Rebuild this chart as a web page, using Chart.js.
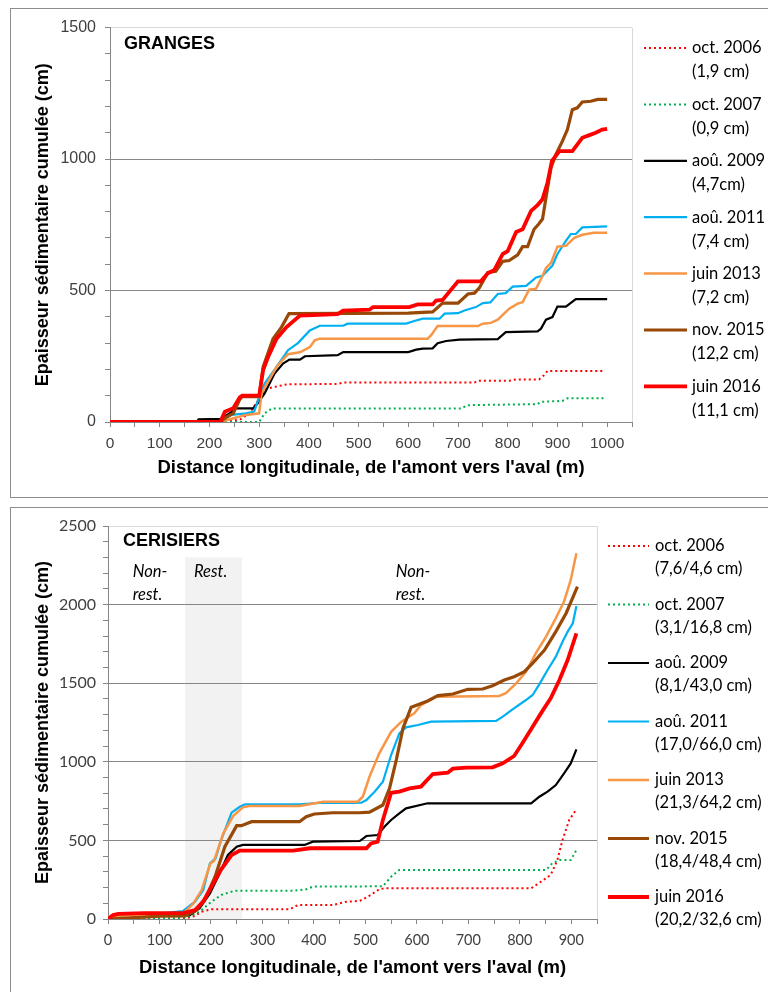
<!DOCTYPE html>
<html>
<head>
<meta charset="utf-8">
<script src="https://cdn.jsdelivr.net/npm/chart.js@4/dist/chart.umd.min.js"></script>
<style>
  body { margin: 0; background: #fff; width: 768px; height: 992px; overflow: hidden; position: relative; }
  .panel { position: absolute; left: 10px; width: 790px; border: 1px solid #8c8c8c; }
  #p1 { top: 8px; height: 488px; }
  #p2 { top: 507px; height: 520px; }
  canvas { position: absolute; left: 0; top: 0; }
</style>
</head>
<body>
<div class="panel" id="p1"><canvas id="granges" width="757" height="488"></canvas></div>
<div class="panel" id="p2"><canvas id="cerisiers" width="757" height="484"></canvas></div>
<script>
// legend names (same for both sites)
const campaigns = ['oct. 2006', 'oct. 2007', 'aoû. 2009', 'aoû. 2011', 'juin 2013', 'nov. 2015', 'juin 2016'];
const grangesNotes = ['(1,9 cm)', '(0,9 cm)', '(4,7cm)', '(7,4 cm)', '(7,2 cm)', '(12,2 cm)', '(11,1 cm)'];
const cerisiersNotes = ['(7,6/4,6 cm)', '(3,1/16,8 cm)', '(8,1/43,0 cm)', '(17,0/66,0 cm)', '(21,3/64,2 cm)', '(18,4/48,4 cm)', '(20,2/32,6 cm)'];

// GRANGES : distance (m) / cumulated thickness (cm)
const gr2006Dist = [0, 230, 262, 281, 298, 315, 355, 458, 469, 733, 740, 803, 817, 863, 873, 880, 995];
const gr2006Cum  = [0, 0, 10, 33, 83, 127, 143, 145, 150, 150, 157, 157, 162, 162, 178, 194, 194];
const gr2007Dist = [0, 230, 300, 311, 325, 706, 719, 860, 867, 910, 920, 995];
const gr2007Cum  = [0, 0, 0, 33, 51, 51, 64, 68, 77, 80, 90, 90];
const gr2009Dist = [0, 175, 178, 222, 241, 254, 288, 298, 311, 331, 348, 361, 382, 392, 458, 469, 600, 616, 629, 649, 659, 676, 703, 780, 796, 860, 867, 877, 890, 900, 917, 937, 1000];
const gr2009Cum  = [0, 0, 10, 12, 33, 52, 52, 73, 109, 184, 222, 237, 237, 250, 254, 266, 266, 275, 279, 280, 300, 308, 313, 315, 342, 345, 355, 389, 399, 439, 439, 467, 467];
const gr2011Dist = [0, 95, 100, 225, 244, 274, 290, 301, 311, 335, 358, 378, 402, 422, 469, 478, 596, 612, 629, 663, 673, 700, 713, 736, 750, 765, 780, 796, 810, 837, 857, 870, 890, 900, 917, 927, 937, 950, 1000];
const gr2011Cum  = [0, 0, 3, 3, 27, 33, 40, 100, 146, 210, 273, 300, 348, 366, 366, 374, 374, 384, 393, 393, 412, 414, 424, 437, 452, 455, 487, 490, 515, 518, 550, 556, 595, 639, 689, 715, 715, 740, 744];
const gr2013Dist = [0, 222, 248, 274, 300, 305, 335, 358, 382, 402, 412, 422, 639, 646, 659, 740, 750, 766, 780, 803, 820, 830, 843, 857, 867, 877, 887, 900, 917, 934, 950, 973, 1000];
const gr2013Cum  = [0, 0, 14, 27, 33, 109, 210, 258, 265, 285, 311, 317, 317, 330, 365, 365, 374, 377, 389, 431, 450, 456, 503, 507, 544, 586, 605, 667, 670, 700, 712, 720, 720];
const gr2015Dist = [0, 222, 235, 248, 261, 266, 300, 308, 328, 345, 360, 600, 649, 669, 700, 720, 733, 743, 760, 776, 790, 803, 820, 830, 840, 853, 862, 870, 877, 887, 897, 910, 920, 930, 940, 950, 967, 981, 1000];
const gr2015Cum  = [0, 0, 20, 33, 86, 96, 96, 210, 317, 361, 412, 414, 419, 452, 452, 487, 490, 510, 569, 573, 611, 614, 636, 667, 667, 733, 752, 772, 853, 967, 1018, 1068, 1112, 1188, 1195, 1217, 1220, 1227, 1227];
const gr2016Dist = [0, 222, 231, 248, 261, 266, 300, 308, 318, 335, 355, 382, 458, 469, 522, 529, 602, 619, 649, 656, 669, 700, 746, 760, 773, 790, 800, 817, 830, 847, 860, 870, 880, 889, 904, 930, 950, 963, 977, 990, 1000];
const gr2016Cum  = [0, 0, 39, 52, 94, 100, 100, 197, 247, 317, 361, 405, 410, 424, 427, 437, 437, 447, 447, 462, 464, 535, 535, 566, 578, 639, 650, 723, 733, 803, 825, 847, 910, 993, 1030, 1030, 1081, 1090, 1100, 1112, 1115];

// CERISIERS
const ce2006Dist = [0, 150, 165, 182, 201, 353, 369, 437, 463, 489, 505, 527, 537, 822, 841, 860, 873, 883, 896, 909];
const ce2006Cum  = [0, 5, 15, 46, 62, 62, 89, 89, 110, 115, 142, 189, 195, 195, 237, 280, 375, 503, 630, 693];
const ce2007Dist = [0, 140, 155, 178, 201, 220, 246, 360, 385, 398, 534, 550, 566, 851, 863, 877, 899, 910];
const ce2007Cum  = [0, 5, 15, 46, 110, 153, 180, 180, 189, 206, 208, 269, 312, 312, 354, 375, 375, 439];
const ce2009Dist = [0, 20, 60, 100, 150, 159, 178, 198, 217, 233, 250, 262, 382, 398, 489, 502, 524, 537, 550, 566, 579, 621, 822, 838, 854, 870, 886, 899, 910];
const ce2009Cum  = [0, 10, 20, 25, 25, 25, 68, 163, 291, 407, 460, 471, 471, 492, 496, 528, 534, 587, 630, 672, 704, 736, 736, 778, 810, 852, 927, 990, 1079];
const ce2011Dist = [0, 15, 30, 100, 146, 169, 185, 198, 209, 220, 240, 256, 266, 372, 418, 476, 492, 502, 518, 534, 550, 566, 579, 602, 628, 754, 767, 786, 812, 825, 841, 854, 870, 883, 893, 903, 910];
const ce2011Cum  = [0, 20, 28, 35, 51, 110, 184, 354, 386, 503, 676, 714, 729, 729, 740, 738, 740, 757, 810, 873, 1043, 1181, 1219, 1234, 1255, 1260, 1287, 1334, 1393, 1425, 1510, 1584, 1669, 1764, 1828, 1881, 1991];
const ce2013Dist = [0, 15, 60, 100, 146, 165, 182, 199, 206, 224, 243, 262, 275, 372, 418, 485, 495, 508, 527, 550, 570, 595, 608, 637, 760, 773, 793, 812, 831, 851, 870, 886, 899, 910];
const ce2013Cum  = [0, 15, 25, 30, 36, 95, 184, 354, 370, 545, 655, 710, 719, 719, 746, 746, 778, 905, 1054, 1191, 1255, 1308, 1361, 1414, 1419, 1436, 1499, 1573, 1690, 1796, 1913, 2019, 2157, 2326];
const ce2015Dist = [0, 50, 100, 150, 172, 191, 208, 227, 250, 259, 279, 372, 385, 401, 437, 489, 508, 534, 547, 560, 573, 589, 621, 641, 670, 699, 728, 747, 770, 789, 809, 825, 848, 870, 890, 912];
const ce2015Cum  = [0, 8, 18, 19, 57, 142, 269, 460, 594, 594, 619, 619, 651, 668, 676, 676, 680, 725, 831, 1011, 1213, 1347, 1387, 1421, 1431, 1461, 1463, 1484, 1520, 1541, 1573, 1627, 1711, 1828, 1945, 2114];
const ce2016Dist = [0, 10, 20, 70, 146, 169, 185, 201, 220, 240, 256, 360, 392, 502, 511, 524, 534, 550, 566, 586, 608, 631, 660, 670, 696, 747, 767, 789, 805, 825, 841, 860, 877, 893, 910];
const ce2016Cum  = [0, 25, 33, 38, 38, 57, 110, 206, 316, 407, 435, 435, 450, 450, 481, 492, 630, 803, 810, 831, 842, 922, 931, 956, 963, 965, 990, 1037, 1118, 1223, 1308, 1404, 1520, 1647, 1817];

// restored reach on the Cerisiers site
const restFrom = 150, restTo = 260, restTop = 2300;

const seriesColors = ['#ff0000', '#00b050', '#000000', '#00b0f0', '#f79646', '#984807', '#ff0000'];
const seriesWidths = [2, 2, 2.2, 2.2, 2.5, 3.2, 3.8];
const seriesDotted = [true, true, false, false, false, false, false];

Chart.defaults.font.family = '"Liberation Sans", Arial, sans-serif';
Chart.defaults.color = '#404040';

function buildDatasets(dists, cums) {
    return campaigns.map((name, i) => ({
        label: name,
        data: dists[i].map((d, k) => ({ x: d, y: cums[i][k] })),
        borderColor: seriesColors[i],
        backgroundColor: seriesColors[i],
        borderWidth: seriesWidths[i],
        borderDash: seriesDotted[i] ? [2, 3] : [],
        pointRadius: 0,
        tension: 0,
        fill: false,
        order: campaigns.length - i   // last campaign on top
    }));
}

function gridColor(major, max) {
    return (c) => {
        const v = c.tick.value;
        if (v === max) return '#d9d9d9';
        if (major && v !== 0 && v % major === 0) return '#868686';
        return 'rgba(0,0,0,0)';
    };
}

// legend drawn at the right, two lines per entry
const sideLegend = {
    id: 'sideLegend',
    afterDraw(chart, args, o) {
        const ctx = chart.ctx;
        ctx.save();
        ctx.font = o.font;
        ctx.textBaseline = 'middle';
        ctx.textAlign = 'left';
        chart.data.datasets.forEach((ds, i) => {
            const y = o.top + i * o.step;
            ctx.beginPath();
            ctx.strokeStyle = ds.borderColor;
            ctx.lineWidth = ds.borderWidth;
            ctx.setLineDash(ds.borderDash);
            ctx.moveTo(o.x0, y);
            ctx.lineTo(o.x1, y);
            ctx.stroke();
            ctx.fillStyle = '#000';
            ctx.fillText(ds.label, o.textX, y);
            ctx.fillText(o.notes[i], o.textX, y + o.gap);
        });
        ctx.restore();
    }
};

// texts placed in data units
const notesPlugin = {
    id: 'notes',
    afterDraw(chart, args, o) {
        const ctx = chart.ctx;
        const xs = chart.scales.x, ys = chart.scales.y;
        ctx.save();
        ctx.textBaseline = 'middle';
        ctx.textAlign = 'left';
        ctx.fillStyle = '#000';
        o.items.forEach(it => {
            ctx.font = it.font;
            ctx.fillText(it.text, xs.getPixelForValue(it.x), ys.getPixelForValue(it.y));
        });
        ctx.restore();
    }
};

const shadePlugin = {
    id: 'shade',
    beforeDraw(chart, args, o) {
        if (!o.on) return;
        const xs = chart.scales.x, ys = chart.scales.y;
        const ctx = chart.ctx;
        ctx.save();
        ctx.fillStyle = '#f2f2f2';
        const l = xs.getPixelForValue(o.from), r = xs.getPixelForValue(o.to);
        const t = ys.getPixelForValue(o.top), b = ys.getPixelForValue(0);
        ctx.fillRect(l, t, r - l, b - t);
        ctx.restore();
    }
};

function makeChart(id, p) {
    return new Chart(document.getElementById(id), {
        type: 'line',
        data: { datasets: buildDatasets(p.dists, p.cums) },
        plugins: [shadePlugin, notesPlugin, sideLegend],
        options: {
            responsive: false,
            animation: false,
            events: [],
            layout: { padding: { left: 0, right: p.padRight, top: 18, bottom: 0 } },
            scales: {
                x: {
                    type: 'linear',
                    min: 0,
                    max: p.xMax,
                    afterFit: (s) => { s.height = p.xAxisH; },
                    border: { color: '#868686', width: 1 },
                    grid: { color: gridColor(null, p.xMax), tickColor: '#868686', tickLength: 5, drawTicks: true },
                    ticks: {
                        stepSize: 50,
                        autoSkip: false,
                        maxRotation: 0,
                        minRotation: 0,
                        padding: p.xTickPad,
                        font: p.xTickFont,
                        color: '#404040',
                        callback: (v) => (v % 100 === 0 ? v : '')
                    },
                    title: {
                        display: true,
                        text: "Distance longitudinale, de l'amont vers l'aval (m)",
                        color: '#000',
                        font: { family: '"Liberation Sans", Arial, sans-serif', size: 18.5, weight: 'bold' },
                        padding: { top: 0, bottom: p.xTitlePad }
                    }
                },
                y: {
                    min: 0,
                    max: p.yMax,
                    afterFit: (s) => { s.width = p.yAxisW; },
                    border: { color: '#868686', width: 1 },
                    grid: { color: gridColor(500, p.yMax), tickColor: '#868686', tickLength: 5, drawTicks: true },
                    ticks: {
                        stepSize: 100,
                        autoSkip: false,
                        padding: p.yTickPad,
                        font: p.yTickFont,
                        color: '#404040',
                        callback: (v) => (v % 500 === 0 ? v : '')
                    },
                    title: {
                        display: true,
                        text: 'Epaisseur sédimentaire cumulée (cm)',
                        color: '#000',
                        font: { family: '"Liberation Sans", Arial, sans-serif', size: 18, weight: 'bold' },
                        padding: { top: 21.5, bottom: 0 }
                    }
                }
            },
            plugins: {
                legend: { display: false },
                tooltip: { enabled: false },
                shade: p.shade,
                notes: { items: p.notes },
                sideLegend: p.legend
            }
        }
    });
}

document.addEventListener('DOMContentLoaded', () => {
    makeChart('granges', {
        dists: [gr2006Dist, gr2007Dist, gr2009Dist, gr2011Dist, gr2013Dist, gr2015Dist, gr2016Dist],
        cums: [gr2006Cum, gr2007Cum, gr2009Cum, gr2011Cum, gr2013Cum, gr2015Cum, gr2016Cum],
        xMax: 1050, yMax: 1500,
        padRight: 136, xAxisH: 75, yAxisW: 99,
        xTickPad: 7, yTickPad: 9, xTitlePad: 18,
        xTickFont: { size: 15.5 }, yTickFont: { size: 16 },
        shade: { on: false },
        notes: [{ text: 'GRANGES', x: 28, y: 1436, font: 'bold 18px "Liberation Sans", Arial, sans-serif' }],
        legend: { x0: 633, x1: 676, textX: 681, top: 39, step: 56.4, gap: 24, notes: grangesNotes, font: '16.5px Lato, sans-serif' }
    });

    makeChart('cerisiers', {
        dists: [ce2006Dist, ce2007Dist, ce2009Dist, ce2011Dist, ce2013Dist, ce2015Dist, ce2016Dist],
        cums: [ce2006Cum, ce2007Cum, ce2009Cum, ce2011Cum, ce2013Cum, ce2015Cum, ce2016Cum],
        xMax: 950, yMax: 2500,
        padRight: 171, xAxisH: 73, yAxisW: 97,
        xTickPad: 8, yTickPad: 7, xTitlePad: 13,
        xTickFont: { family: 'Lato, sans-serif', size: 14.5 }, yTickFont: { family: 'Lato, sans-serif', size: 16 },
        shade: { on: true, from: restFrom, to: restTo, top: restTop },
        notes: [
            { text: 'CERISIERS', x: 29, y: 2405, font: 'bold 18px "Liberation Sans", Arial, sans-serif' },
            { text: 'Non-', x: 48, y: 2207, font: 'italic 16.5px Lato, sans-serif' },
            { text: 'rest.', x: 48, y: 2064, font: 'italic 16.5px Lato, sans-serif' },
            { text: 'Rest.', x: 167, y: 2207, font: 'italic 16.5px Lato, sans-serif' },
            { text: 'Non-', x: 559, y: 2207, font: 'italic 16.5px Lato, sans-serif' },
            { text: 'rest.', x: 559, y: 2064, font: 'italic 16.5px Lato, sans-serif' }
        ],
        legend: { x0: 597, x1: 638, textX: 644, top: 38, step: 58.5, gap: 23, notes: cerisiersNotes, font: '16.5px Lato, sans-serif' }
    });
});
</script>
</body>
</html>
